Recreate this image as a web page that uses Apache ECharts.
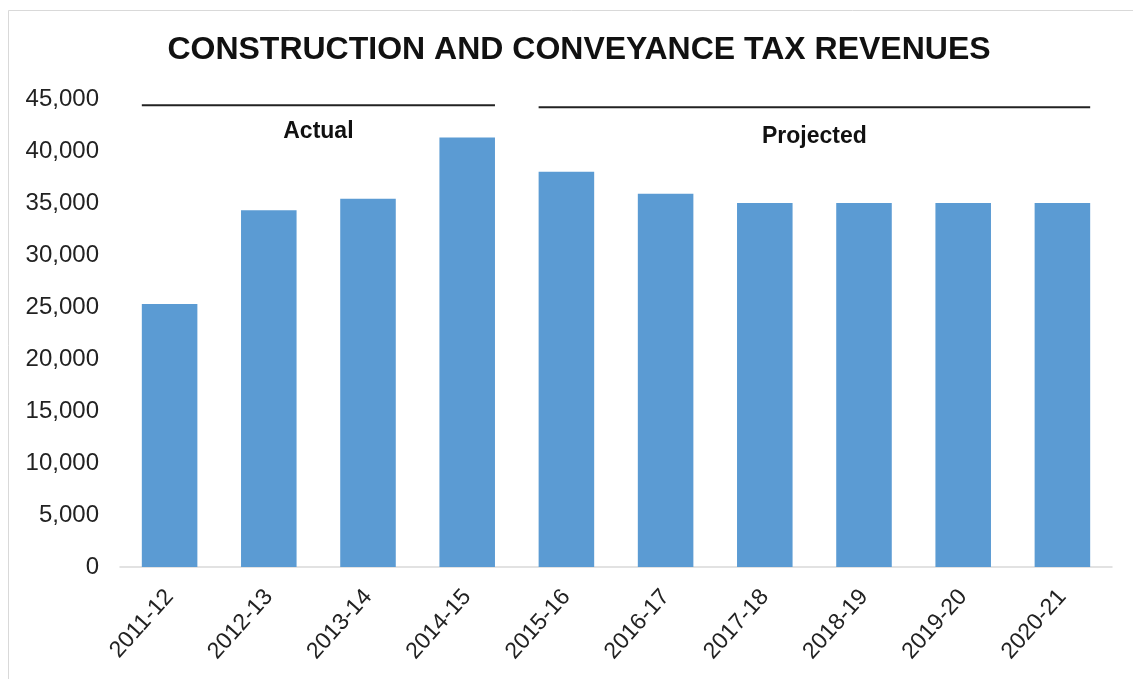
<!DOCTYPE html>
<html>
<head>
<meta charset="utf-8">
<script src="https://cdn.jsdelivr.net/npm/echarts@6/dist/echarts.min.js"></script>
<style>
html,body{margin:0;padding:0;background:#fff;}
#chart{width:1133px;height:679px;}
</style>
</head>
<body>
<div id="chart"></div>
<script>
// ---- data ----
var titleText = 'CONSTRUCTION AND CONVEYANCE TAX REVENUES';
var categories = ['2011-12','2012-13','2013-14','2014-15','2015-16','2016-17','2017-18','2018-19','2019-20','2020-21'];
var revenues = [25300, 34300, 35400, 41300, 38000, 35900, 35000, 35000, 35000, 35000];
var yTicksMin = 0, yTicksMax = 45000, yTickStep = 5000;
// period annotations (category index ranges)
var groupNames = ['Actual', 'Projected'];
var groupStart = [0, 4];
var groupEnd = [3, 9];
var groupLineLevel = [44400, 44200];
var groupLabelLevel = [41900, 41350];

var BAR_FRAC = 0.56;
var annotData = groupNames.map(function (n, i) {
  return [groupStart[i], groupEnd[i], groupLineLevel[i], groupLabelLevel[i], n];
});

var chart = echarts.init(document.getElementById('chart'));
chart.setOption({
  animation: false,
  backgroundColor: '#ffffff',
  title: {
    text: titleText,
    left: 574,
    textAlign: 'center',
    top: 29,
    textStyle: { fontFamily: 'Liberation Sans, Arial, sans-serif', fontWeight: 'bold', fontSize: 32, color: '#111111' }
  },
  graphic: [{
    type: 'rect', left: 6, top: 8, silent: true,
    shape: { width: 1140, height: 690 },
    style: { fill: 'none', stroke: '#d9d9d9', lineWidth: 1 }
  }],
  grid: { left: 120, right: 21, top: 99, bottom: 112 },
  xAxis: {
    type: 'category',
    data: categories,
    axisLine: { show: true, lineStyle: { color: '#d9d9d9', width: 1.5 } },
    axisTick: { show: false },
    axisLabel: {
      rotate: 48, margin: 26, interval: 0,
      fontFamily: 'Liberation Sans, Arial, sans-serif', fontSize: 23, color: '#222222'
    }
  },
  yAxis: {
    type: 'value',
    min: yTicksMin, max: yTicksMax, interval: yTickStep,
    axisLine: { show: false },
    axisTick: { show: false },
    splitLine: { show: false },
    axisLabel: {
      margin: 21,
      fontFamily: 'Liberation Sans, Arial, sans-serif', fontSize: 24, color: '#222222',
      formatter: function (v) { return v.toLocaleString('en-US'); }
    }
  },
  series: [{
    type: 'bar',
    data: revenues,
    barWidth: (BAR_FRAC * 100) + '%',
    itemStyle: { color: '#5b9bd3' }
  }, {
    type: 'custom',
    silent: true,
    data: annotData,
    encode: { x: [0, 1], y: [2, 3] },
    renderItem: function (params, api) {
      var s = api.value(0), e = api.value(1);
      var half = api.size([1, 0])[0] * BAR_FRAC / 2;
      var p0 = api.coord([s, api.value(2)]);
      var p1 = api.coord([e, api.value(2)]);
      var ly = api.coord([s, api.value(3)])[1];
      var x1 = p0[0] - half, x2 = p1[0] + half;
      return {
        type: 'group',
        children: [{
          type: 'line',
          shape: { x1: x1, y1: p0[1], x2: x2, y2: p1[1] },
          style: { stroke: '#222222', lineWidth: 2 }
        }, {
          type: 'text',
          x: (x1 + x2) / 2, y: ly,
          style: {
            text: api.value(4),
            align: 'center', verticalAlign: 'middle',
            font: 'bold 23px "Liberation Sans", Arial, sans-serif',
            fill: '#111111'
          }
        }]
      };
    }
  }]
});
</script>
</body>
</html>
